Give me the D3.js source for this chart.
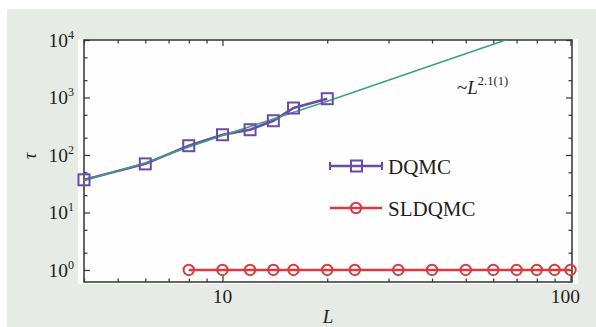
<!DOCTYPE html>
<html>
<head>
<meta charset="utf-8">
<script src="https://cdn.jsdelivr.net/npm/d3@7"></script>
<style>
    body { margin: 0; background: #fff; }
    svg { display: block; }
    text { font-family: "Liberation Serif", "Times New Roman", serif; fill: #1e1e1e; }
</style>
</head>
<body>
<div id="chart"></div>
<script>
// data
var dqmcL = [4, 6, 8, 10, 12, 14, 16, 20];
var dqmcTau = [37, 70, 145, 225, 275, 394, 656, 953];
var sldqmcL = [8, 10, 12, 14, 16, 20, 24, 32, 40, 50, 60, 70, 80, 90, 100];
var sldqmcTau = [1, 1, 1, 1, 1, 1, 1, 1, 1, 1, 1, 1, 1, 1, 1];
// fitted power law ~L^2.1(1), as drawn
var fitL = [4, 6, 8, 10, 20, 40, 70];
var fitTau = [36, 73, 138, 218, 860, 3630, 11600];

var xMajorTicks = [10, 100];
var xTickLabels = ["10", "100"];
var xMinorTicks = [4, 5, 6, 7, 8, 9, 20, 30, 40, 50, 60, 70, 80, 90];
var yMajorTicks = [1, 10, 100, 1000, 10000];
var yTickExponents = ["0", "1", "2", "3", "4"];
var yMinorTicks = [2, 5, 20, 50, 200, 500, 2000, 5000];
var seriesNames = ["DQMC", "SLDQMC"];

(function () {
    var width = 596,
        height = 327;
    var margin = {top: 40, right: 24, bottom: 45, left: 84};
    var innerW = width - margin.left - margin.right,
        innerH = height - margin.top - margin.bottom;

    var purple = "#6a4ca6",
        teal = "#3b9f86",
        red = "#d83a3e";

    var svg = d3.select("#chart")
        .append("svg")
        .attr("width", width)
        .attr("height", height);

    // panel background
    svg.append("rect")
        .attr("x", 7).attr("y", 9)
        .attr("width", width - 7).attr("height", height - 9)
        .attr("fill", "#e7ebe5");
    svg.append("rect")
        .attr("x", margin.left - 6).attr("y", margin.top - 1)
        .attr("width", innerW + 12).attr("height", innerH + 3)
        .attr("fill", "#fefefe");

    var g = svg.append("g")
        .attr("transform", "translate(" + margin.left + "," + margin.top + ")");

    var x = d3.scaleLog().domain([4, 101]).range([0, innerW]);
    var y = d3.scaleLog().domain([0.618, 10000]).range([innerH, 0]);

    g.append("clipPath").attr("id", "clip")
        .append("rect").attr("width", innerW).attr("height", innerH);

    // ticks, all pointing inward
    function addAxis(axis, tr) {
        var a = g.append("g")
            .attr("transform", tr)
            .call(axis);
        a.select(".domain").remove();
        a.selectAll(".tick text").remove();
        a.selectAll(".tick line").attr("stroke", "#333").attr("stroke-width", 1.2);
        return a;
    }
    addAxis(d3.axisBottom(x).tickValues(xMajorTicks).tickSize(-6), "translate(0," + innerH + ")");
    addAxis(d3.axisBottom(x).tickValues(xMinorTicks).tickSize(-3.5), "translate(0," + innerH + ")");
    addAxis(d3.axisTop(x).tickValues(xMajorTicks).tickSize(-6), "translate(0,0)");
    addAxis(d3.axisTop(x).tickValues(xMinorTicks).tickSize(-3.5), "translate(0,0)");
    addAxis(d3.axisLeft(y).tickValues(yMajorTicks).tickSize(-6), "translate(0,0)");
    addAxis(d3.axisLeft(y).tickValues(yMinorTicks).tickSize(-3.5), "translate(0,0)");
    addAxis(d3.axisRight(y).tickValues(yMajorTicks).tickSize(-6), "translate(" + innerW + ",0)");
    addAxis(d3.axisRight(y).tickValues(yMinorTicks).tickSize(-3.5), "translate(" + innerW + ",0)");

    g.append("rect")
        .attr("width", innerW).attr("height", innerH)
        .attr("fill", "none")
        .attr("stroke", "#333")
        .attr("stroke-width", 1.5);

    // tick labels
    g.selectAll(".xlab")
        .data(xMajorTicks)
        .enter().append("text")
        .attr("class", "xlab")
        .attr("x", function (d, i) { return x(d) - (i === 1 ? 5 : 0); })
        .attr("y", innerH + 21)
        .attr("text-anchor", "middle")
        .style("font-size", "19.5px")
        .text(function (d, i) { return xTickLabels[i]; });

    var ylab = g.selectAll(".ylab")
        .data(yMajorTicks)
        .enter().append("text")
        .attr("class", "ylab")
        .attr("x", -10)
        .attr("y", function (d) { return y(d) + 7; })
        .attr("text-anchor", "end")
        .style("font-size", "19.5px");
    ylab.append("tspan").text("10");
    ylab.append("tspan")
        .attr("dy", -8)
        .style("font-size", "12px")
        .text(function (d, i) { return yTickExponents[i]; });

    // axis titles
    g.append("text")
        .attr("x", innerW / 2)
        .attr("y", innerH + 41)
        .attr("text-anchor", "middle")
        .style("font-size", "19px")
        .style("font-style", "italic")
        .text("L");
    g.append("text")
        .attr("transform", "translate(" + (-48) + "," + (y(100) + 1) + ") rotate(-90)")
        .attr("text-anchor", "middle")
        .style("font-size", "18px")
        .style("font-style", "italic")
        .text("τ");

    var line = d3.line()
        .x(function (d) { return x(d[0]); })
        .y(function (d) { return y(d[1]); });

    var plot = g.append("g").attr("clip-path", "url(#clip)");

    var dqmc = d3.zip(dqmcL, dqmcTau);
    var sldqmc = d3.zip(sldqmcL, sldqmcTau);
    var fit = d3.zip(fitL, fitTau);

    plot.append("path")
        .datum(dqmc)
        .attr("d", line)
        .attr("fill", "none")
        .attr("stroke", purple)
        .attr("stroke-width", 2.5);
    plot.append("path")
        .datum(fit)
        .attr("d", line)
        .attr("fill", "none")
        .attr("stroke", teal)
        .attr("stroke-width", 1.6);
    plot.append("path")
        .datum(sldqmc)
        .attr("d", line)
        .attr("fill", "none")
        .attr("stroke", red)
        .attr("stroke-width", 2.5);

    g.selectAll(".sq")
        .data(dqmc)
        .enter().append("rect")
        .attr("class", "sq")
        .attr("x", function (d) { return x(d[0]) - 5.5; })
        .attr("y", function (d) { return y(d[1]) - 5.5; })
        .attr("width", 11).attr("height", 11)
        .attr("fill", "none")
        .attr("stroke", purple)
        .attr("stroke-width", 2);

    g.selectAll(".circ")
        .data(sldqmc)
        .enter().append("circle")
        .attr("class", "circ")
        .attr("cx", function (d) { return x(d[0]); })
        .attr("cy", function (d) { return y(d[1]); })
        .attr("r", 5.2)
        .attr("fill", "none")
        .attr("stroke", red)
        .attr("stroke-width", 2);

    // fit annotation
    var ann = g.append("text")
        .attr("x", 373)
        .attr("y", 54)
        .style("font-size", "19px");
    ann.append("tspan").text("~");
    ann.append("tspan").style("font-style", "italic").text("L");
    ann.append("tspan")
        .attr("dy", -9)
        .style("font-size", "12.5px")
        .text("2.1(1)");

    // legend
    var legend = g.append("g").attr("transform", "translate(246,126)");
    var legColors = [purple, red];
    var items = legend.selectAll(".leg")
        .data(seriesNames)
        .enter().append("g")
        .attr("class", "leg")
        .attr("transform", function (d, i) { return "translate(0," + (i * 42) + ")"; });
    items.append("line")
        .attr("x1", 0).attr("x2", 52)
        .attr("stroke", function (d, i) { return legColors[i]; })
        .attr("stroke-width", 2.5);
    items.filter(function (d, i) { return i === 0; })
        .selectAll(".cap")
        .data([0, 52])
        .enter().append("line")
        .attr("x1", function (d) { return d; })
        .attr("x2", function (d) { return d; })
        .attr("y1", -4).attr("y2", 4)
        .attr("stroke", purple)
        .attr("stroke-width", 2);
    items.filter(function (d, i) { return i === 0; })
        .append("rect")
        .attr("x", 21).attr("y", -5.5)
        .attr("width", 11).attr("height", 11)
        .attr("fill", "none")
        .attr("stroke", purple)
        .attr("stroke-width", 2);
    items.filter(function (d, i) { return i === 1; })
        .append("circle")
        .attr("cx", 26).attr("r", 5.2)
        .attr("fill", "none")
        .attr("stroke", red)
        .attr("stroke-width", 2);
    items.append("text")
        .attr("x", 58)
        .attr("y", 8)
        .style("font-size", "21px")
        .text(function (d) { return d; });
})();
</script>
</body>
</html>
